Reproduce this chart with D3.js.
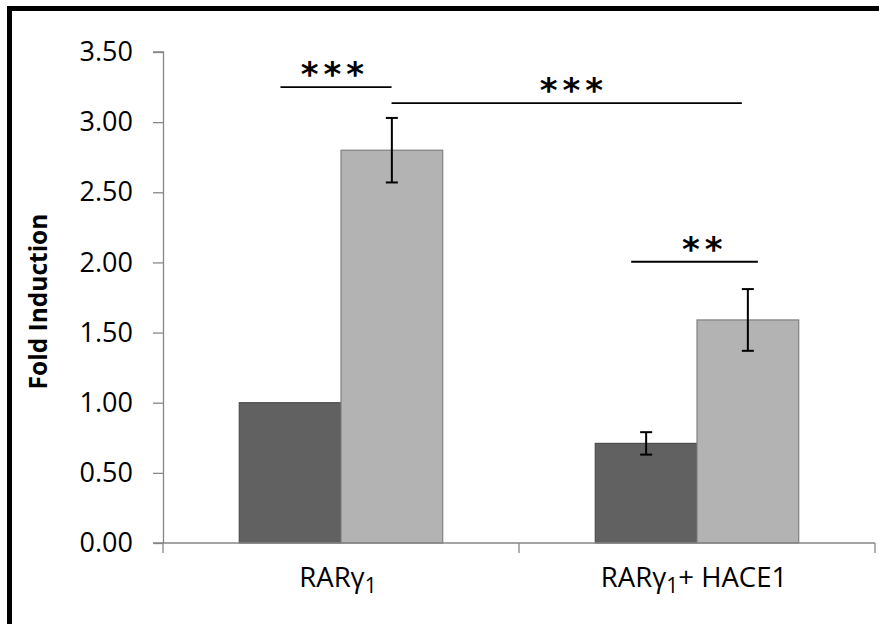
<!DOCTYPE html>
<html>
<head>
<meta charset="utf-8">
<script src="https://cdn.jsdelivr.net/npm/d3@7"></script>
<style>
  html, body { margin: 0; padding: 0; background: #fff; }
  svg { display: block; }
</style>
</head>
<body>
<script>
// Reporter assay: fold induction, untreated vs treated, per construct
const categories = ["RARγ1", "RARγ1+ HACE1"];
const seriesNames = ["control", "treated"];
const controlValues = [1.00, 0.71];
const controlErrors = [0, 0.08];
const treatedValues = [2.80, 1.59];
const treatedErrors = [0.23, 0.22];
const yTicks = [0, 0.5, 1, 1.5, 2, 2.5, 3, 3.5];

// Significance brackets: x in category units (0 = axis start, 1 per category), y in data units
const brackets = [
  { x0: 0.33, x1: 0.642, y: 3.25, label: "***", lx: 0.483 },
  { x0: 0.642, x1: 1.626, y: 3.135, label: "***", lx: 1.154 },
  { x0: 1.315, x1: 1.671, y: 2.005, label: "**", lx: 1.522 }
];

const W = 879, H = 624;
const svg = d3.select("body").append("svg").attr("width", W).attr("height", H);
svg.append("rect").attr("width", W).attr("height", H).attr("fill", "#fff");

// frame (left and top edges)
svg.append("rect").attr("x", 7).attr("y", 6).attr("width", 5).attr("height", H - 6).attr("fill", "#000");
svg.append("rect").attr("x", 7).attr("y", 6).attr("width", W - 7).attr("height", 5).attr("fill", "#000");

const plot = { left: 163, right: 875, top: 52, bottom: 543 };
const axisColor = "#868686";
const font = "'Open Sans', 'Noto Sans', sans-serif";

const y = d3.scaleLinear().domain([0, 3.5]).range([plot.bottom, plot.top]);
const x = d3.scaleBand().domain(categories).range([plot.left, plot.right]).paddingInner(0).paddingOuter(0);
const catUnits = d3.scaleLinear().domain([0, categories.length]).range([plot.left, plot.right]);
const groupWidth = x.bandwidth() / 1.75;
const xs = d3.scaleBand().domain(seriesNames).range([0, groupWidth]).padding(0);

const rows = categories.map((c, i) => ({
  cat: c,
  bars: [
    { s: "control", v: controlValues[i], e: controlErrors[i] },
    { s: "treated", v: treatedValues[i], e: treatedErrors[i] }
  ]
}));
const fills = { control: "#616161", treated: "#b3b3b3" };
const strokes = { control: "#4d4d4d", treated: "#808080" };

// y axis
const yAxis = d3.axisLeft(y).tickValues(yTicks).tickSize(10).tickPadding(20).tickFormat(d3.format(".2f"));
const gy = svg.append("g").attr("transform", `translate(${plot.left},0)`).call(yAxis);
gy.select(".domain").attr("stroke", axisColor).attr("stroke-width", 1.3)
  .attr("d", `M-10,${y(3.5)}H0.5V${plot.bottom}`);
gy.selectAll(".tick line").attr("stroke", axisColor).attr("stroke-width", 1.3);
gy.selectAll(".tick text").attr("font-family", font).attr("font-size", 27).attr("fill", "#000");

// bars
const groups = svg.append("g").selectAll("g").data(rows).join("g")
  .attr("transform", d => `translate(${x(d.cat) + (x.bandwidth() - groupWidth) / 2},0)`);
groups.selectAll("rect").data(d => d.bars).join("rect")
  .attr("x", d => xs(d.s))
  .attr("y", d => y(d.v))
  .attr("width", xs.bandwidth())
  .attr("height", d => y(0) - y(d.v))
  .attr("fill", d => fills[d.s])
  .attr("stroke", d => strokes[d.s])
  .attr("stroke-width", 1.2);

// error bars
const eb = groups.selectAll("g.err").data(d => d.bars.filter(b => b.e > 0)).join("g").attr("class", "err")
  .attr("transform", d => `translate(${xs(d.s) + xs.bandwidth() / 2},0)`);
eb.append("line").attr("y1", d => y(d.v + d.e)).attr("y2", d => y(d.v - d.e))
  .attr("stroke", "#000").attr("stroke-width", 2);
eb.append("line").attr("x1", -6).attr("x2", 6).attr("y1", d => y(d.v + d.e)).attr("y2", d => y(d.v + d.e))
  .attr("stroke", "#000").attr("stroke-width", 2);
eb.append("line").attr("x1", -6).attr("x2", 6).attr("y1", d => y(d.v - d.e)).attr("y2", d => y(d.v - d.e))
  .attr("stroke", "#000").attr("stroke-width", 2);

// x axis
const gx = svg.append("g");
gx.append("line").attr("x1", plot.left - 10).attr("x2", plot.right).attr("y1", y(0)).attr("y2", y(0))
  .attr("stroke", axisColor).attr("stroke-width", 1.3);
const bounds = [plot.left].concat(categories.map(c => x(c) + x.bandwidth()));
gx.selectAll("line.tk").data(bounds).join("line").attr("class", "tk")
  .attr("x1", d => d).attr("x2", d => d).attr("y1", y(0)).attr("y2", y(0) + 10)
  .attr("stroke", axisColor).attr("stroke-width", 1.3);

// category labels with subscript
const lab = gx.selectAll("text.cat").data(categories).join("text").attr("class", "cat")
  .attr("x", d => x(d) + x.bandwidth() / 2 - 3)
  .attr("y", 587)
  .attr("text-anchor", "middle")
  .attr("font-family", font).attr("font-size", 27.5).attr("fill", "#000");
lab.each(function (d) {
  const t = d3.select(this);
  const i = d.indexOf("1");
  t.append("tspan").text(d.slice(0, i));
  t.append("tspan").attr("dy", 6).attr("font-size", 21).text("1");
  if (d.length > i + 1) t.append("tspan").attr("dy", -6).text(d.slice(i + 1));
});

// y axis title
svg.append("text")
  .attr("transform", `translate(47,${(plot.top + plot.bottom) / 2 + 4}) rotate(-90)`)
  .attr("text-anchor", "middle")
  .attr("font-family", font).attr("font-weight", "bold").attr("font-size", 24.5)
  .attr("fill", "#000")
  .text("Fold Induction");

// significance brackets
const sig = svg.append("g").selectAll("g").data(brackets).join("g");
sig.append("line")
  .attr("x1", d => catUnits(d.x0)).attr("x2", d => catUnits(d.x1))
  .attr("y1", d => y(d.y)).attr("y2", d => y(d.y))
  .attr("stroke", "#000").attr("stroke-width", 1.8);
sig.append("text")
  .attr("x", d => catUnits(d.lx))
  .attr("y", d => y(d.y) - 1)
  .attr("text-anchor", "middle")
  .attr("font-family", "'DejaVu Sans', sans-serif").attr("font-weight", "bold").attr("font-size", 34)
  .attr("letter-spacing", 5)
  .attr("fill", "#000")
  .text(d => d.label);
</script>
</body>
</html>
